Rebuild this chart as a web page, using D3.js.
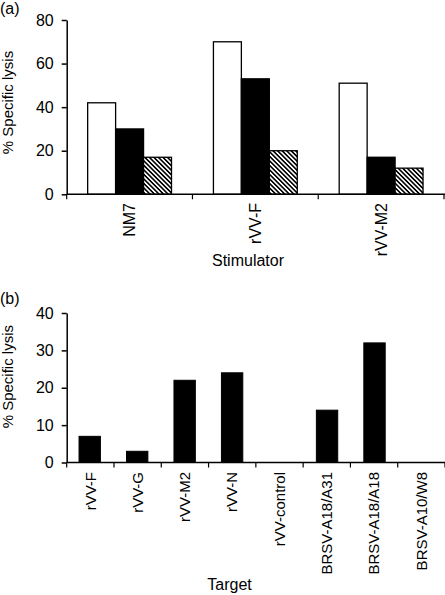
<!DOCTYPE html>
<html>
<head>
<meta charset="utf-8">
<script src="https://cdn.jsdelivr.net/npm/d3@7"></script>
<style>
  html, body { margin: 0; padding: 0; background: #fff; }
  svg { display: block; }
  text { font-family: "Liberation Sans", Arial, Helvetica, sans-serif; fill: #000; }
</style>
</head>
<body>
<svg id="chart" width="445" height="595"></svg>
<script>
// ---- Data ----
const stimulators = ["NM7", "rVV-F", "rVV-M2"];
const seriesA = ["open", "solid", "hatched"];
const openValues = [42, 70, 51];
const solidValues = [30, 53, 17];
const hatchedValues = [17, 20, 12];
const yTicksA = [0, 20, 40, 60, 80];

const targets = ["rVV-F", "rVV-G", "rVV-M2", "rVV-N", "rVV-control", "BRSV-A18/A31", "BRSV-A18/A18", "BRSV-A10/W8"];
const targetValues = [7, 3, 22, 24, 0, 14, 32, 0];
const yTicksB = [0, 10, 20, 30, 40];

const svg = d3.select("#chart");

// hatch pattern (lines running top-left to bottom-right)
const defs = svg.append("defs");
const P = 3.2;
const pat = defs.append("pattern")
  .attr("id", "hatch")
  .attr("patternUnits", "userSpaceOnUse")
  .attr("width", P).attr("height", P)
  .attr("patternTransform", "rotate(-45)");
pat.append("rect").attr("width", P).attr("height", P).attr("fill", "#fff");
pat.append("line").attr("x1", P / 2).attr("y1", 0).attr("x2", P / 2).attr("y2", P)
  .attr("stroke", "#000").attr("stroke-width", 1.6);

const fills = { open: "#fff", solid: "#000", hatched: "url(#hatch)" };

// ---------- Panel (a) ----------
const xA = d3.scaleBand().domain(stimulators).range([66.7, 444]).padding(0);
const x1 = d3.scaleBand().domain(seriesA).range([0, xA.bandwidth()]).paddingInner(0).paddingOuter(0.75);
const yA = d3.scaleLinear().domain([0, 80]).range([194.3, 20]);

const gA = svg.append("g");
const rowsA = stimulators.map((s, i) => ({
  cat: s,
  vals: [
    { key: "open", v: openValues[i] },
    { key: "solid", v: solidValues[i] },
    { key: "hatched", v: hatchedValues[i] }
  ]
}));
gA.selectAll("g.grp").data(rowsA).join("g")
  .attr("transform", d => `translate(${xA(d.cat)},0)`)
  .selectAll("rect").data(d => d.vals).join("rect")
  .attr("x", d => x1(d.key))
  .attr("y", d => yA(d.v))
  .attr("width", x1.bandwidth())
  .attr("height", d => yA(0) - yA(d.v))
  .attr("fill", d => fills[d.key])
  .attr("stroke", "#000").attr("stroke-width", 1.3);

// y axis
const yAxisA = gA.append("g").attr("transform", "translate(66.7,0)")
  .call(d3.axisLeft(yA).tickValues(yTicksA).tickSize(5).tickSizeOuter(0).tickPadding(8));
yAxisA.selectAll("text").style("font-size", "16px").style("font-family", "Liberation Sans, Arial, sans-serif");
yAxisA.selectAll("path, line").attr("stroke", "#000").attr("stroke-width", 1.5);

// x axis line + boundary ticks
const xAxisA = gA.append("g");
xAxisA.append("line").attr("x1", 66.7).attr("x2", 445).attr("y1", yA(0)).attr("y2", yA(0))
  .attr("stroke", "#000").attr("stroke-width", 1.5);
const boundA = stimulators.map(s => xA(s)).concat([xA(stimulators[stimulators.length - 1]) + xA.bandwidth()]);
xAxisA.selectAll("line.tk").data(boundA).join("line").attr("class", "tk")
  .attr("x1", d => d).attr("x2", d => d).attr("y1", yA(0)).attr("y2", yA(0) + 5)
  .attr("stroke", "#000").attr("stroke-width", 1.2);
xAxisA.selectAll("text.lab").data(stimulators).join("text").attr("class", "lab")
  .attr("transform", d => `translate(${xA(d) + xA.bandwidth() / 2},203) rotate(-90)`)
  .attr("text-anchor", "end").attr("dy", "0.35em")
  .style("font-size", "16px").text(d => d);

gA.append("text").attr("x", 248).attr("y", 265.5).attr("text-anchor", "middle")
  .style("font-size", "16px").text("Stimulator");
gA.append("text").attr("transform", "translate(8,102.5) rotate(-90)")
  .attr("text-anchor", "middle").attr("dy", "0.35em")
  .style("font-size", "15px").text("% Specific lysis");
gA.append("text").attr("x", 0).attr("y", 13.5).style("font-size", "16px").text("(a)");

// ---------- Panel (b) ----------
const xB = d3.scaleBand().domain(targets).range([66.7, 445]).padding(0);
const xBbar = d3.scaleBand().domain(targets).range([66.7, 445]).paddingInner(0.55).paddingOuter(0.26);
const yB = d3.scaleLinear().domain([0, 40]).range([462.5, 313]);

const gB = svg.append("g");
gB.selectAll("rect").data(targets.map((t, i) => ({ t, v: targetValues[i] })).filter(d => d.v > 0)).join("rect")
  .attr("x", d => xBbar(d.t))
  .attr("y", d => yB(d.v))
  .attr("width", xBbar.bandwidth())
  .attr("height", d => yB(0) - yB(d.v))
  .attr("fill", "#000").attr("stroke", "#000").attr("stroke-width", 1);

const yAxisB = gB.append("g").attr("transform", "translate(66.7,0)")
  .call(d3.axisLeft(yB).tickValues(yTicksB).tickSize(5).tickSizeOuter(0).tickPadding(8));
yAxisB.selectAll("text").style("font-size", "16px").style("font-family", "Liberation Sans, Arial, sans-serif");
yAxisB.selectAll("path, line").attr("stroke", "#000").attr("stroke-width", 1.5);

const xAxisB = gB.append("g");
xAxisB.append("line").attr("x1", 66.7).attr("x2", 445).attr("y1", yB(0)).attr("y2", yB(0))
  .attr("stroke", "#000").attr("stroke-width", 1.5);
const boundB = targets.map(s => xB(s)).concat([xB(targets[targets.length - 1]) + xB.bandwidth()]);
xAxisB.selectAll("line.tk").data(boundB).join("line").attr("class", "tk")
  .attr("x1", d => d).attr("x2", d => d).attr("y1", yB(0)).attr("y2", yB(0) + 5)
  .attr("stroke", "#000").attr("stroke-width", 1.2);
xAxisB.selectAll("text.lab").data(targets).join("text").attr("class", "lab")
  .attr("transform", d => `translate(${xB(d) + xB.bandwidth() / 2},472) rotate(-90)`)
  .attr("text-anchor", "end").attr("dy", "0.35em")
  .style("font-size", "15px").text(d => d);

gB.append("text").attr("x", 229.5).attr("y", 590).attr("text-anchor", "middle")
  .style("font-size", "16px").text("Target");
gB.append("text").attr("transform", "translate(8,376.7) rotate(-90)")
  .attr("text-anchor", "middle").attr("dy", "0.35em")
  .style("font-size", "15px").text("% Specific lysis");
gB.append("text").attr("x", 0).attr("y", 303.5).style("font-size", "16px").text("(b)");
</script>
</body>
</html>
